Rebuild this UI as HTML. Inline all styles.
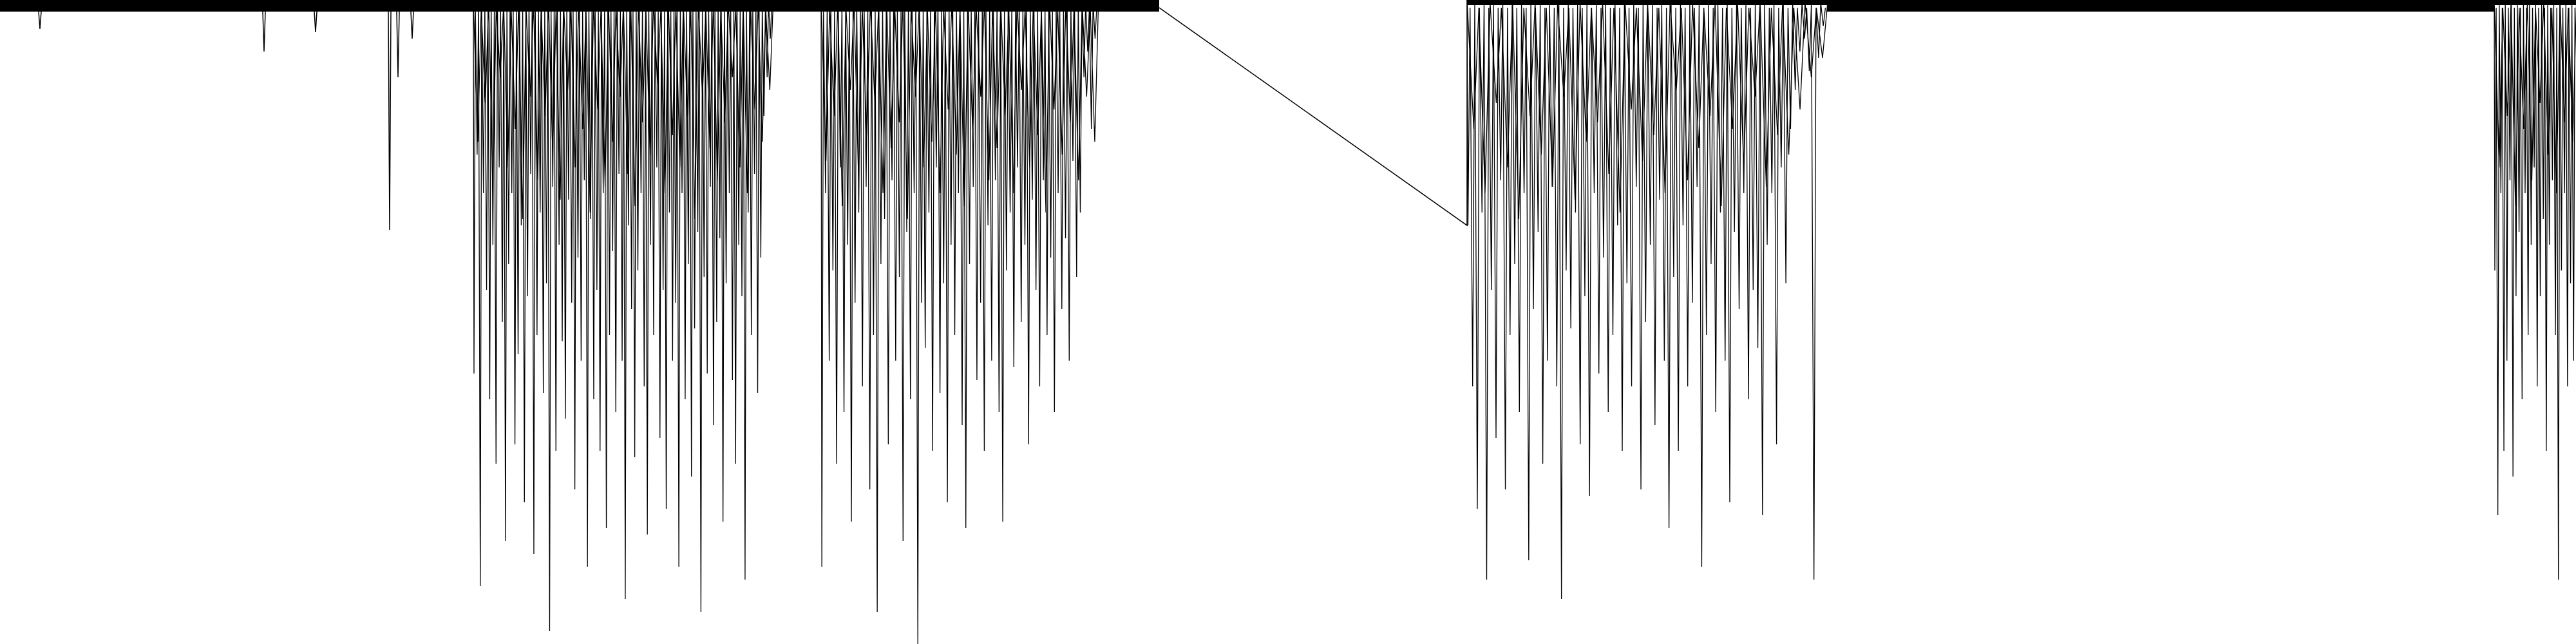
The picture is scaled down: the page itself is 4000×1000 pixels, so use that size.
<!DOCTYPE html>
<html><head><meta charset="utf-8"><style>
html,body{margin:0;padding:0;background:#fff;width:4000px;height:1000px;overflow:hidden}
svg{display:block}
</style></head><body>
<svg id="chart" width="4000" height="1000" viewBox="0 0 4000 1000" xmlns="http://www.w3.org/2000/svg">
<rect x="0" y="0" width="4000" height="1000" fill="#fff"/>
<g id="marks"></g>
</svg>
<script>
// x domain 0..4000 (sample time), y domain 0..1000 (depth below baseline)
const baselineSegments = [[0,1800],[2837,3873]];
const baselineLevel = 18;
const gapLine = [[1800,12],[2278,350]];
const isolatedX = [62, 410, 490, 605, 618, 640];
const isolatedDepth = [45, 80, 50, 357, 120, 60];
const clusterStart = [735, 1275, 2278, 3873];
const clusterEnd = [1200, 1705, 2837, 4000];
const deepA = [580,240,910,300,450,620,380,720,260,500,840,410,300,690,550,350,780,460,270,860,520,330,610,440,980,290,700,380,530,650,310,470,760,400,560,280,880,340,620,450,700,300,820,520,390,640,270,560,930,350,480,710,420,300,600,830,380,520,260,680,450,790,330,560,470,880,300,620,410,740,510,360,950,430,580,290,660,500,370,810,440,300,590,720,380,460,900,330,520,270,610,400,180,120,60];
const deepB = [880,300,560,420,720,260,640,380,810,470,330,600,290,760,520,950,410,340,690,280,560,430,840,360,620,300,1000,470,540,330,700,260,610,440,780,380,520,300,660,820,410,290,590,470,700,350,560,280,640,810,420,330,570,260,500,380,690,310,450,600,280,520,400,640,300,480,370,560,250,430,330,120,80,200,60];
const deepC = [350,600,790,330,900,450,680,280,760,520,410,640,300,870,480,360,720,560,290,600,930,420,510,330,690,460,770,300,580,400,640,520,350,700,440,600,290,760,500,380,660,310,560,820,430,700,350,600,470,290,880,520,410,640,330,560,780,360,480,300,620,450,540,800,380,300,690,260,440,200,140,80,60,110,900,90,40];
const deepD = [420,800,300,700,560,280,740,460,360,620,300,520,380,260,600,460,340,700,380,280,520,900,420,300,600,440,560];
const shallowA = [220,160,300,120,260,200,340,150,280,180,240,310,140,260,200,330,170,290,220,150,270,320,190,240,130,300,210,260,180,340,150,230,280,190,120,260,300,170,220,140];
const shallowB = [250,180,320,140,280,210,160,300,230,190,340,150,260,220,300,170,240,320,200,150,280,230,180,300,140,260,210,330,170,240,190,280,150,220];
const shallowC = [200,300,160,260,340,180,240,290,150,310,220,190,270,330,170,250,210,300,140,280,230,180,320,200,260,150,290,210,240,170,120,90];
const shallowD = [260,180,320,200,280,160,240,300,190,220];

const W = 4000, H = 1000;
const xDomain = [0, 4000], yDomain = [0, 1000];
function xs(v){ return (v - xDomain[0]) / (xDomain[1]-xDomain[0]) * W; }
function ys(v){ return (v - yDomain[0]) / (yDomain[1]-yDomain[0]) * H; }

const g = document.getElementById('marks');
const NS = 'http://www.w3.org/2000/svg';
function addPath(d, name, sw){
  const p = document.createElementNS(NS,'path');
  p.setAttribute('d', d);
  p.setAttribute('fill','none');
  p.setAttribute('stroke','#000');
  p.setAttribute('stroke-width', sw);
  p.setAttribute('stroke-linejoin','miter');
  
  
  g.appendChild(p);
}
// baseline bands
baselineSegments.forEach(function(s){
  const r = document.createElementNS(NS,'rect');
  r.setAttribute('x', xs(s[0]));
  r.setAttribute('y', 0);
  r.setAttribute('width', xs(s[1]) - xs(s[0]));
  r.setAttribute('height', ys(baselineLevel));
  r.setAttribute('fill', '#000');
  
  
  g.appendChild(r);
});
// isolated spikes
isolatedX.forEach(function(x,i){
  addPath('M'+xs(x-2)+','+ys(baselineLevel)+' L'+xs(x)+','+ys(isolatedDepth[i])+' L'+xs(x+2)+','+ys(baselineLevel), 'isolated-spike', 1.5);
});
// gap line
addPath('M'+xs(gapLine[0][0])+','+ys(gapLine[0][1])+' L'+xs(gapLine[1][0])+','+ys(gapLine[1][1])+' L'+xs(gapLine[1][0])+','+ys(0), 'gap-line', 1.5);
// clusters
const deep = [deepA, deepB, deepC, deepD];
const shallow = [shallowA, shallowB, shallowC, shallowD];
function clusterPath(arr, x0, x1, offset){
  const n = arr.length, step = (x1-x0)/n;
  let d = 'M'+xs(x0)+','+ys(0);
  arr.forEach(function(v,i){
    const x = x0 + (i+offset)*step;
    d += ' L'+xs(x)+','+ys(v)+' L'+xs(x+step*0.45)+','+ys(i%2?4:12);
  });
  return d;
}
deep.forEach(function(arr,k){
  addPath(clusterPath(arr, clusterStart[k], clusterEnd[k], 0.2), 'spike-cluster-deep', 1.3);
  addPath(clusterPath(shallow[k], clusterStart[k], clusterEnd[k], 0.6), 'spike-cluster-shallow', 1.3);
  const r = document.createElementNS(NS,'rect');
  r.setAttribute('x', xs(clusterStart[k]));
  r.setAttribute('y', 0);
  r.setAttribute('width', xs(clusterEnd[k]) - xs(clusterStart[k]));
  r.setAttribute('height', ys(8));
  r.setAttribute('fill', '#000');
  
  
  g.appendChild(r);
});
</script>
</body></html>
